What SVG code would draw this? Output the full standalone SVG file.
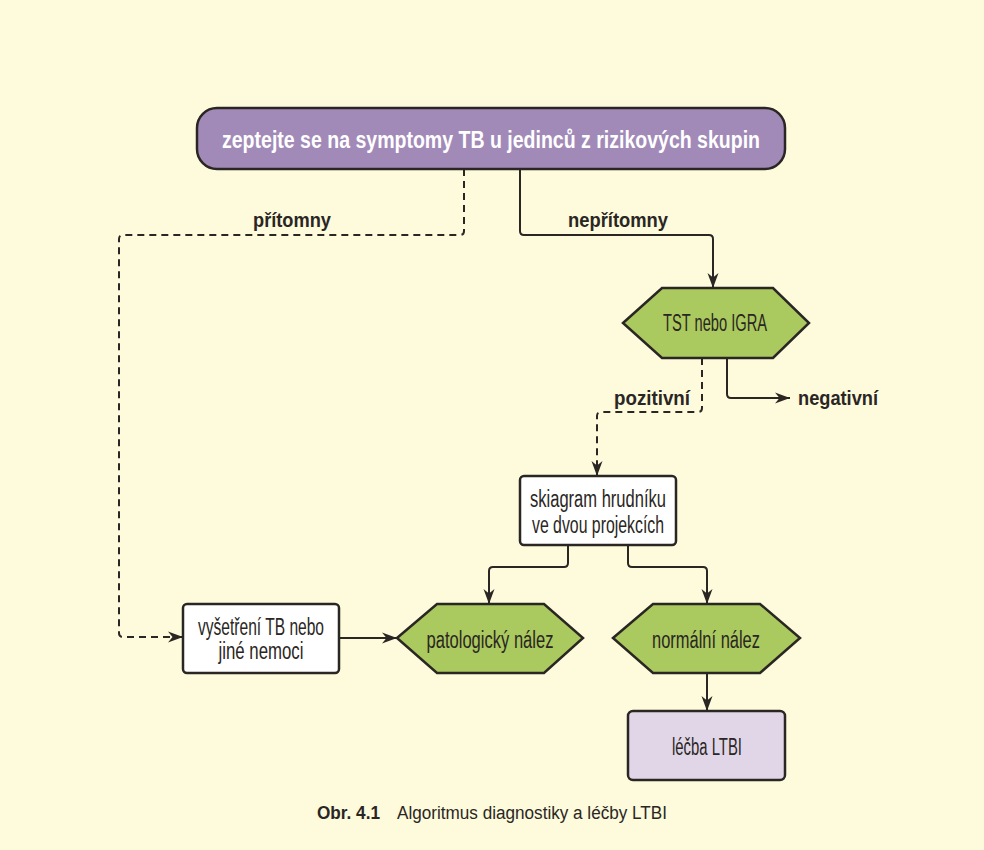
<svg xmlns="http://www.w3.org/2000/svg" width="984" height="850" viewBox="0 0 984 850">
<defs>
<marker id="arr" markerUnits="userSpaceOnUse" markerWidth="16" markerHeight="12" refX="15" refY="6" orient="auto">
<path d="M0,0.5 L15,6 L0,11.5 L4.5,6 Z" fill="#2a2623"/>
</marker>
<style>
.bg{fill:#fefbdd}
.ln{fill:none;stroke:#2a2623;stroke-width:2}
.dash{stroke-dasharray:7,5}
.hex{fill:#aac95e;stroke:#2a2623;stroke-width:2.5;stroke-linejoin:miter}
.box{fill:#ffffff;stroke:#2a2623;stroke-width:2.5}
.pbox{fill:#e1d5e8;stroke:#2a2623;stroke-width:2.5}
.top{fill:#a28ab8;stroke:#2a2623;stroke-width:2.5}
text{font-family:"Liberation Sans",Arial,sans-serif;fill:#2a2623}
.t{font-size:23px;text-anchor:middle}
.lb{font-size:20px;font-weight:bold}
.hd{font-size:24px;font-weight:bold;fill:#ffffff;text-anchor:middle}
.cap{font-size:18px}
</style>
</defs>
<rect class="bg" x="0" y="0" width="984" height="850"/>
<g id="connectors">
<path class="ln" d="M520,169 V231 Q520,235 524,235 H709 Q713,235 713,239 V288" marker-end="url(#arr)"/>
<path class="ln dash" d="M464,169 V231 Q464,235 460,235 H123 Q119,235 119,239 V633 Q119,637 123,637 H183" marker-end="url(#arr)"/>
<path class="ln dash" d="M702,358 V408 Q702,412 698,412 H601 Q597,412 597,416 V476" marker-end="url(#arr)"/>
<path class="ln" d="M727,358 V394 Q727,398 731,398 H790" marker-end="url(#arr)"/>
<path class="ln" d="M568,545 V563 Q568,567 564,567 H493 Q489,567 489,571 V604" marker-end="url(#arr)"/>
<path class="ln" d="M628,545 V563 Q628,567 632,567 H703 Q707,567 707,571 V604" marker-end="url(#arr)"/>
<path class="ln" d="M339,638 H397" marker-end="url(#arr)"/>
<path class="ln" d="M707,673 V711" marker-end="url(#arr)"/>
<text class="lb" x="253" y="227" textLength="78" lengthAdjust="spacingAndGlyphs">přítomny</text>
<text class="lb" x="568" y="227" textLength="100" lengthAdjust="spacingAndGlyphs">nepřítomny</text>
<text class="lb" x="614" y="405" textLength="76" lengthAdjust="spacingAndGlyphs">pozitivní</text>
<text class="lb" x="798" y="405" textLength="80" lengthAdjust="spacingAndGlyphs">negativní</text>
</g>
<g id="n-top">
<rect class="top" x="197" y="108" width="588" height="61" rx="20"/>
<text class="hd" x="491" y="148" textLength="538" lengthAdjust="spacingAndGlyphs">zeptejte se na symptomy TB u jedinců z rizikových skupin</text>
</g>
<g id="n-test">
<polygon class="hex" points="623,323 662,288 773,288 809,323 773,358 662,358"/>
<text class="t" x="715" y="331" textLength="104" lengthAdjust="spacingAndGlyphs">TST nebo IGRA</text>
</g>
<g id="n-xray">
<rect class="box" x="520" y="476" width="156" height="69" rx="4"/>
<text class="t" x="598" y="507" textLength="136" lengthAdjust="spacingAndGlyphs">skiagram hrudníku</text>
<text class="t" x="598" y="533" textLength="132" lengthAdjust="spacingAndGlyphs">ve dvou projekcích</text>
</g>
<g id="n-exam">
<rect class="box" x="183" y="604" width="156" height="69" rx="4"/>
<text class="t" x="261" y="635" textLength="126" lengthAdjust="spacingAndGlyphs">vyšetření TB nebo</text>
<text class="t" x="261" y="659" textLength="85" lengthAdjust="spacingAndGlyphs">jiné nemoci</text>
</g>
<g id="n-pat">
<polygon class="hex" points="397,638 437,604 544,604 583,638 544,673 437,673"/>
<text class="t" x="490" y="648" textLength="127" lengthAdjust="spacingAndGlyphs">patologický nález</text>
</g>
<g id="n-norm">
<polygon class="hex" points="613,638 653,604 760,604 800,638 760,673 653,673"/>
<text class="t" x="706" y="648" textLength="108" lengthAdjust="spacingAndGlyphs">normální nález</text>
</g>
<g id="n-ltbi">
<rect class="pbox" x="628" y="711" width="157" height="69" rx="5"/>
<text class="t" x="707" y="755" textLength="70" lengthAdjust="spacingAndGlyphs">léčba LTBI</text>
</g>
<g id="caption">
<text class="cap" x="317" y="819" font-weight="bold" textLength="63" lengthAdjust="spacingAndGlyphs">Obr. 4.1</text>
<text class="cap" x="397" y="819" textLength="270" lengthAdjust="spacingAndGlyphs">Algoritmus diagnostiky a léčby LTBI</text>
</g>
</svg>
